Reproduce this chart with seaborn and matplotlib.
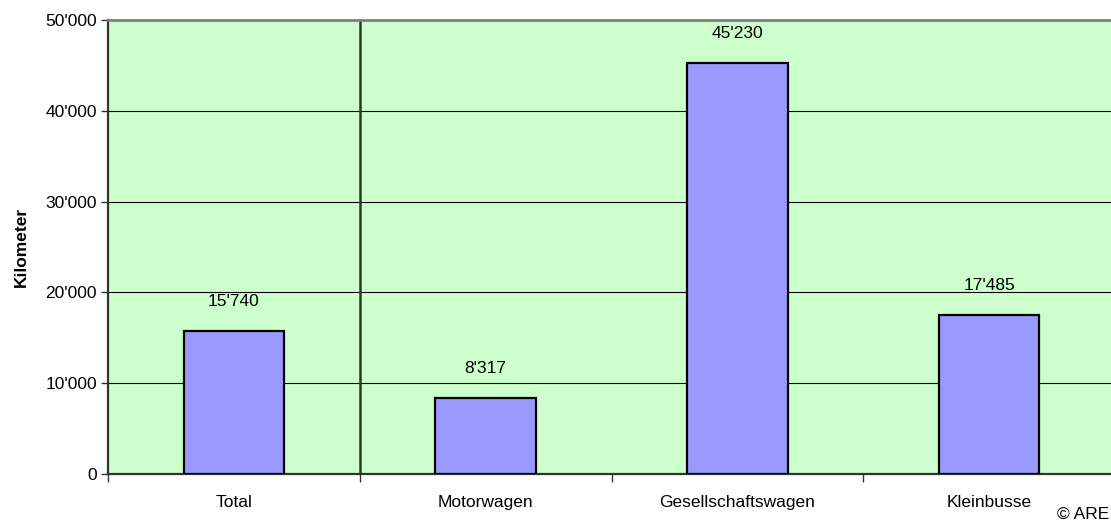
import pandas as pd
import numpy as np
import seaborn as sns
import matplotlib.pyplot as plt
import matplotlib.ticker as mticker

categories = ["Total", "Motorwagen", "Gesellschaftswagen", "Kleinbusse"]
km = [15740, 8317, 45230, 17485]

df = pd.DataFrame({"Kategorie": categories, "Kilometer": km})

plt.rcParams['font.family'] = ['Liberation Sans', 'DejaVu Sans']
plt.rcParams['font.size'] = 12.5

fig = plt.figure(figsize=(11.11, 5.24), dpi=100)
ax = fig.add_axes([108 / 1111, 1 - 474 / 524, 1007 / 1111, 454 / 524])
ax.set_facecolor("#CCFFCC")

sns.barplot(data=df, x="Kategorie", y="Kilometer", ax=ax, color="#9999FF",
            saturation=1, width=0.4, edgecolor="black", linewidth=1.6, zorder=3)

ax.set_ylim(0, 50000)
ax.set_xlim(-0.5, 3.5)
ax.yaxis.set_major_locator(mticker.MultipleLocator(10000))
ax.yaxis.set_major_formatter(mticker.FuncFormatter(lambda v, p: f"{int(v):,}".replace(",", "'")))
ax.grid(axis="y", color="black", linewidth=0.8, zorder=1)
ax.set_axisbelow(True)

# separator between Total and the vehicle types
ax.axvline(0.5, color="#333333", linewidth=1.8, zorder=2)

# x ticks at category boundaries, labels at centres
ax.set_xticks(np.arange(-0.5, 3.6, 1.0))
ax.set_xticklabels([])
ax.set_xticks(np.arange(4), minor=True)
ax.set_xticklabels(categories, minor=True)
ax.tick_params(axis="x", which="major", length=6, width=1, color="#333333", direction="out")
ax.tick_params(axis="x", which="minor", length=0, pad=15)
ax.tick_params(axis="y", length=5, width=1, color="#333333", pad=3)

for s in ["left", "bottom"]:
    ax.spines[s].set_color("#333333")
    ax.spines[s].set_linewidth(1.6)
ax.spines["top"].set_color("#808080")
ax.spines["top"].set_linewidth(2)
ax.spines["right"].set_visible(False)

ax.bar_label(ax.containers[0], labels=[f"{v:,}".replace(",", "'") for v in km], padding=16)

ax.set_xlabel("")
ax.set_ylabel("Kilometer", fontweight="bold", labelpad=12)

fig.text(0.998, 0.005, "© ARE", ha="right", va="bottom")

fig.savefig("out.png", dpi=100)
